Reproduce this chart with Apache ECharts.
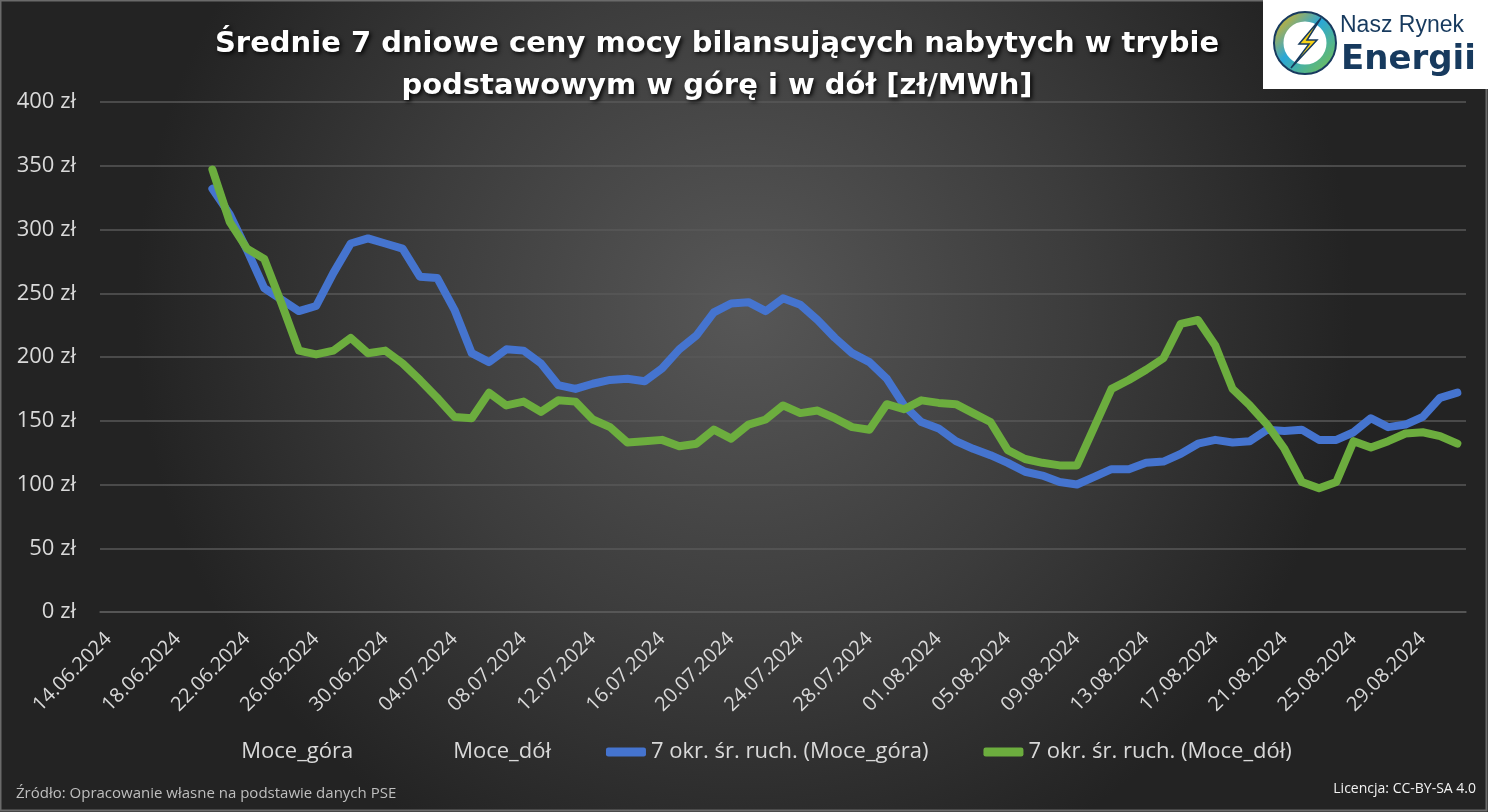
<!DOCTYPE html>
<html lang="pl">
<head>
<meta charset="utf-8">
<title>Średnie 7 dniowe ceny mocy bilansujących</title>
<script src="https://cdn.jsdelivr.net/npm/echarts@6/dist/echarts.min.js"></script>
<style>
  html, body { margin: 0; padding: 0; background: #2b2b2b; }
  #chart { width: 1488px; height: 812px; }
</style>
</head>
<body>
<div id="chart"></div>
<script>
// ========== Dane ==========
const dates = [
  '14.06.2024', '15.06.2024', '16.06.2024', '17.06.2024', '18.06.2024', '19.06.2024', '20.06.2024',
  '21.06.2024', '22.06.2024', '23.06.2024', '24.06.2024', '25.06.2024', '26.06.2024', '27.06.2024',
  '28.06.2024', '29.06.2024', '30.06.2024', '01.07.2024', '02.07.2024', '03.07.2024', '04.07.2024',
  '05.07.2024', '06.07.2024', '07.07.2024', '08.07.2024', '09.07.2024', '10.07.2024', '11.07.2024',
  '12.07.2024', '13.07.2024', '14.07.2024', '15.07.2024', '16.07.2024', '17.07.2024', '18.07.2024',
  '19.07.2024', '20.07.2024', '21.07.2024', '22.07.2024', '23.07.2024', '24.07.2024', '25.07.2024',
  '26.07.2024', '27.07.2024', '28.07.2024', '29.07.2024', '30.07.2024', '31.07.2024', '01.08.2024',
  '02.08.2024', '03.08.2024', '04.08.2024', '05.08.2024', '06.08.2024', '07.08.2024', '08.08.2024',
  '09.08.2024', '10.08.2024', '11.08.2024', '12.08.2024', '13.08.2024', '14.08.2024', '15.08.2024',
  '16.08.2024', '17.08.2024', '18.08.2024', '19.08.2024', '20.08.2024', '21.08.2024', '22.08.2024',
  '23.08.2024', '24.08.2024', '25.08.2024', '26.08.2024', '27.08.2024', '28.08.2024', '29.08.2024',
  '30.08.2024', '31.08.2024'
];

// 7-dniowa średnia ruchoma – pierwsze 6 dni bez wartości
const avgGora = [
  null, null, null, null, null, null,
  332, 312, 284, 254, 245, 236, 240, 266, 289, 293, 289, 285, 263, 262,
  237, 203, 196, 206, 205, 195, 178, 175, 179, 182, 183, 181, 191, 206,
  217, 235, 242, 243, 236, 246, 241, 229, 215, 203, 196, 183, 162, 149,
  144, 134, 128, 123, 117, 110, 107, 102, 100, 106, 112, 112, 117, 118,
  124, 132, 135, 133, 134, 143, 142, 143, 135, 135, 141, 152, 145, 147,
  153, 168, 172
];

const avgDol = [
  null, null, null, null, null, null,
  347, 306, 285, 277, 242, 205, 202, 205, 215, 203, 205, 195, 182, 168,
  153, 152, 172, 162, 165, 157, 166, 165, 151, 145, 133, 134, 135, 130,
  132, 143, 136, 147, 151, 162, 156, 158, 152, 145, 143, 163, 159, 166,
  164, 163, 156, 149, 127, 120, 117, 115, 115, 145, 175, 182, 190, 199,
  226, 229, 209, 175, 162, 147, 128, 102, 97, 102, 134, 129, 134, 140,
  141, 138, 132
];

// serie surowe – w oryginale bez widocznej linii
const rawGora = [];
const rawDol = [];

const yTicks = [0, 50, 100, 150, 200, 250, 300, 350, 400];

// ========== Kolory ==========
const BLUE = '#4574cf';
const GREEN = '#6cad3e';
const TEXT = '#d9d9d9';
const GRID = '#595959';

const chart = echarts.init(document.getElementById('chart'));

const option = {
  backgroundColor: new echarts.graphic.RadialGradient(0.5, 0.38, 0.75, [
    { offset: 0, color: '#575757' },
    { offset: 0.55, color: '#3c3c3c' },
    { offset: 1, color: '#232323' }
  ]),
  textStyle: { fontFamily: 'Open Sans' },
  title: {
    text: 'Średnie 7 dniowe ceny mocy bilansujących nabytych w trybie\npodstawowym w górę i w dół [zł/MWh]',
    left: 712,
    top: 18,
    textAlign: 'center',
    textStyle: {
      color: '#ffffff',
      fontSize: 29,
      fontWeight: 'bold',
      fontFamily: 'DejaVu Sans',
      lineHeight: 42,
      textShadowColor: 'rgba(0,0,0,0.9)',
      textShadowBlur: 4,
      textShadowOffsetX: 2,
      textShadowOffsetY: 2
    }
  },
  grid: { left: 100, right: 22, top: 102, bottom: 200, containLabel: false },
  legend: {
    bottom: 44,
    left: 'center',
    itemWidth: 40,
    itemHeight: 9,
    itemGap: 55,
    textStyle: { color: TEXT, fontSize: 22, fontFamily: 'Open Sans' },
    data: [
      { name: 'Moce_góra', icon: 'none' },
      { name: 'Moce_dół', icon: 'none' },
      { name: '7 okr. śr. ruch. (Moce_góra)', icon: 'roundRect' },
      { name: '7 okr. śr. ruch. (Moce_dół)', icon: 'roundRect' }
    ]
  },
  xAxis: {
    type: 'category',
    data: dates,
    boundaryGap: true,
    axisLine: { lineStyle: { color: GRID, width: 1.5 } },
    axisTick: { show: false },
    axisLabel: {
      color: TEXT,
      fontSize: 20,
      rotate: 45,
      interval: 3,
      margin: 24
    }
  },
  yAxis: {
    type: 'value',
    min: yTicks[0],
    max: yTicks[yTicks.length - 1],
    interval: 50,
    axisLine: { show: false },
    axisTick: { show: false },
    splitLine: { lineStyle: { color: GRID, width: 1.5 } },
    axisLabel: {
      color: TEXT,
      fontSize: 22,
      margin: 24,
      formatter: v => v + ' zł'
    }
  },
  series: [
    { name: 'Moce_góra', type: 'line', data: rawGora, showSymbol: false, lineStyle: { opacity: 0 } },
    { name: 'Moce_dół', type: 'line', data: rawDol, showSymbol: false, lineStyle: { opacity: 0 } },
    {
      name: '7 okr. śr. ruch. (Moce_góra)',
      type: 'line',
      data: avgGora,
      showSymbol: false,
      itemStyle: { color: BLUE },
      lineStyle: { color: BLUE, width: 8, cap: 'round', join: 'round' },
      z: 3
    },
    {
      name: '7 okr. śr. ruch. (Moce_dół)',
      type: 'line',
      data: avgDol,
      showSymbol: false,
      itemStyle: { color: GREEN },
      lineStyle: { color: GREEN, width: 8, cap: 'round', join: 'round' },
      z: 4
    }
  ],
  graphic: [
    // ramka
    {
      type: 'rect',
      shape: { x: 0.5, y: 0.5, width: 1486, height: 810 },
      style: { fill: 'none', stroke: '#6a6a6a', lineWidth: 2 },
      silent: true
    },
    // logo
    {
      type: 'group',
      left: 1263,
      top: 0,
      children: [
        { type: 'rect', shape: { x: 0, y: 0, width: 225, height: 89 }, style: { fill: '#ffffff' } },
        {
          type: 'circle',
          shape: { cx: 42, cy: 43, r: 26 },
          style: {
            fill: 'none',
            lineWidth: 9,
            stroke: new echarts.graphic.LinearGradient(0, 0, 1, 1, [
              { offset: 0, color: '#f5b400' },
              { offset: 0.45, color: '#2aa7d8' },
              { offset: 1, color: '#7cc242' }
            ])
          }
        },
        { type: 'circle', shape: { cx: 42, cy: 43, r: 31 }, style: { fill: 'none', stroke: '#173a5e', lineWidth: 2 } },
        {
          type: 'polygon',
          shape: { points: [[58, 18], [36, 44], [46, 44], [28, 68], [54, 40], [44, 40]] },
          style: { fill: '#f7d117', stroke: '#173a5e', lineWidth: 1.5 }
        },
        {
          type: 'text',
          style: { x: 77, y: 26, text: 'Nasz Rynek', fill: '#173a5e', font: '23px "Liberation Sans"', textVerticalAlign: 'middle' }
        },
        {
          type: 'text',
          style: { x: 78, y: 60, text: 'Energii', fill: '#173a5e', font: 'bold 34px "DejaVu Sans"', textVerticalAlign: 'middle' }
        }
      ]
    },
    // stopka
    {
      type: 'text',
      left: 16,
      top: 786,
      style: { text: 'Źródło: Opracowanie własne na podstawie danych PSE', fill: '#bfbfbf', font: '15px "Open Sans"' }
    },
    {
      type: 'text',
      right: 12,
      top: 782,
      style: { text: 'Licencja: CC-BY-SA 4.0', fill: '#f2f2f2', font: '14px "Open Sans"' }
    }
  ]
};

chart.setOption(option);
window.addEventListener('resize', () => chart.resize());
</script>
</body>
</html>
